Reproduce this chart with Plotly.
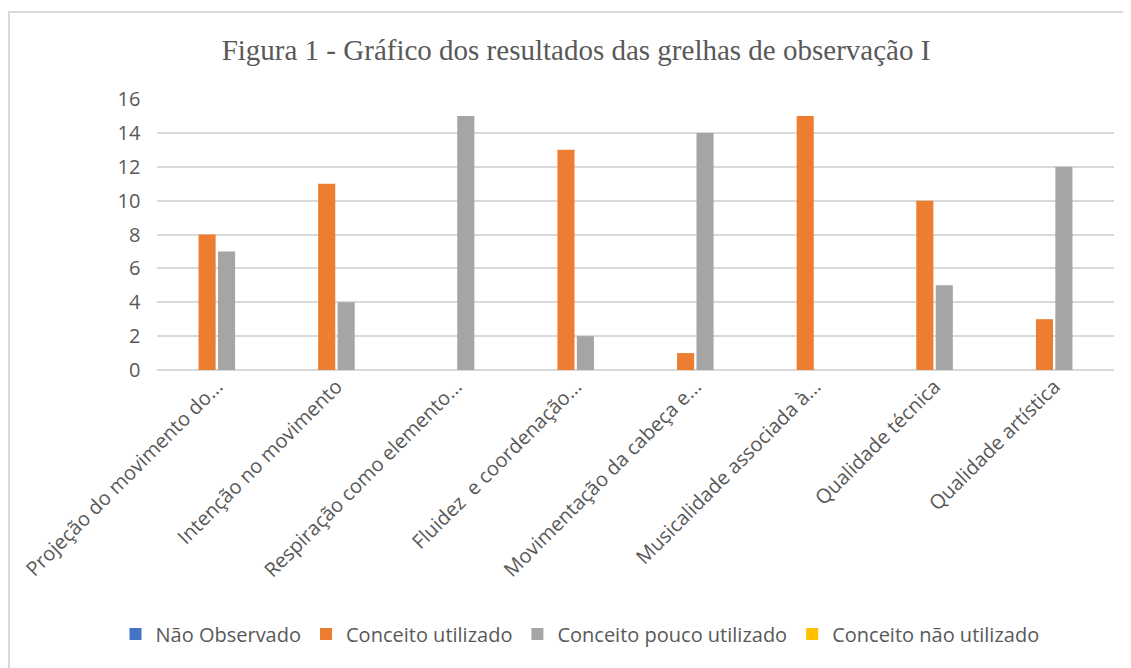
import plotly.graph_objects as go

categories = [
    "Projeção do movimento do...",
    "Intenção no movimento",
    "Respiração como elemento...",
    "Fluidez  e coordenação...",
    "Movimentação da cabeça e...",
    "Musicalidade associada à...",
    "Qualidade técnica",
    "Qualidade artística",
]
nao_observado = [0, 0, 0, 0, 0, 0, 0, 0]
conceito_utilizado = [8, 11, 0, 13, 1, 15, 10, 3]
conceito_pouco = [7, 4, 15, 2, 14, 0, 5, 12]
conceito_nao = [0, 0, 0, 0, 0, 0, 0, 0]

series = [
    ("Não Observado", nao_observado, "#4472C4"),
    ("Conceito utilizado", conceito_utilizado, "#ED7D31"),
    ("Conceito pouco utilizado", conceito_pouco, "#A5A5A5"),
    ("Conceito não utilizado", conceito_nao, "#FFC000"),
]

# the page body adds an 8px offset; figure coordinates below are page coords - 8
W, H = 1123, 660
L, R, T, B = 149, 17, 91, 298
pw, ph = W - L - R, H - T - B

fig = go.Figure()
for name, vals, col in series:
    fig.add_trace(go.Bar(
        x=categories, y=vals, name=name,
        marker=dict(color=col, line=dict(width=0)),
    ))

def px_x(x):
    return (x - L) / pw

def px_y(y):
    return (H - B - y) / ph

fig.update_layout(
    width=W, height=H,
    margin=dict(l=L, r=R, t=T, b=B, autoexpand=False),
    paper_bgcolor="white", plot_bgcolor="white",
    barmode="group", bargap=0.35, bargroupgap=0.12,
    title=dict(
        text="Figura 1 - Gráfico dos resultados das grelhas de observação I",
        font=dict(family="Liberation Serif", size=29, color="#595959"),
        x=px_x(568), xref="paper", xanchor="center",
        y=1 - 42 / H, yref="container", yanchor="middle",
    ),
    xaxis=dict(
        tickangle=-45,
        tickfont=dict(family="Open Sans", size=20, color="#595959"),
        showgrid=False, showline=False, ticks="",
    ),
    yaxis=dict(
        range=[0, 16], dtick=2,
        tickfont=dict(family="Open Sans", size=20, color="#595959"),
        gridcolor="#D9D9D9", gridwidth=1.5,
        zeroline=True, zerolinecolor="#D9D9D9", zerolinewidth=1.5,
        showline=False, ticks="", ticksuffix="   ",
    ),
    legend=dict(
        orientation="h", x=px_x(572), xanchor="center",
        y=px_y(626), yanchor="middle",
        font=dict(family="Open Sans", size=20, color="#595959"),
        itemwidth=30,
    ),
    shapes=[dict(
        type="rect", xref="paper", yref="paper",
        x0=px_x(1), x1=px_x(1300), y0=px_y(800), y1=px_y(4),
        line=dict(color="#D9D9D9", width=2), fillcolor="rgba(0,0,0,0)",
        layer="below",
    )],
)

fig.write_html("out.html")
